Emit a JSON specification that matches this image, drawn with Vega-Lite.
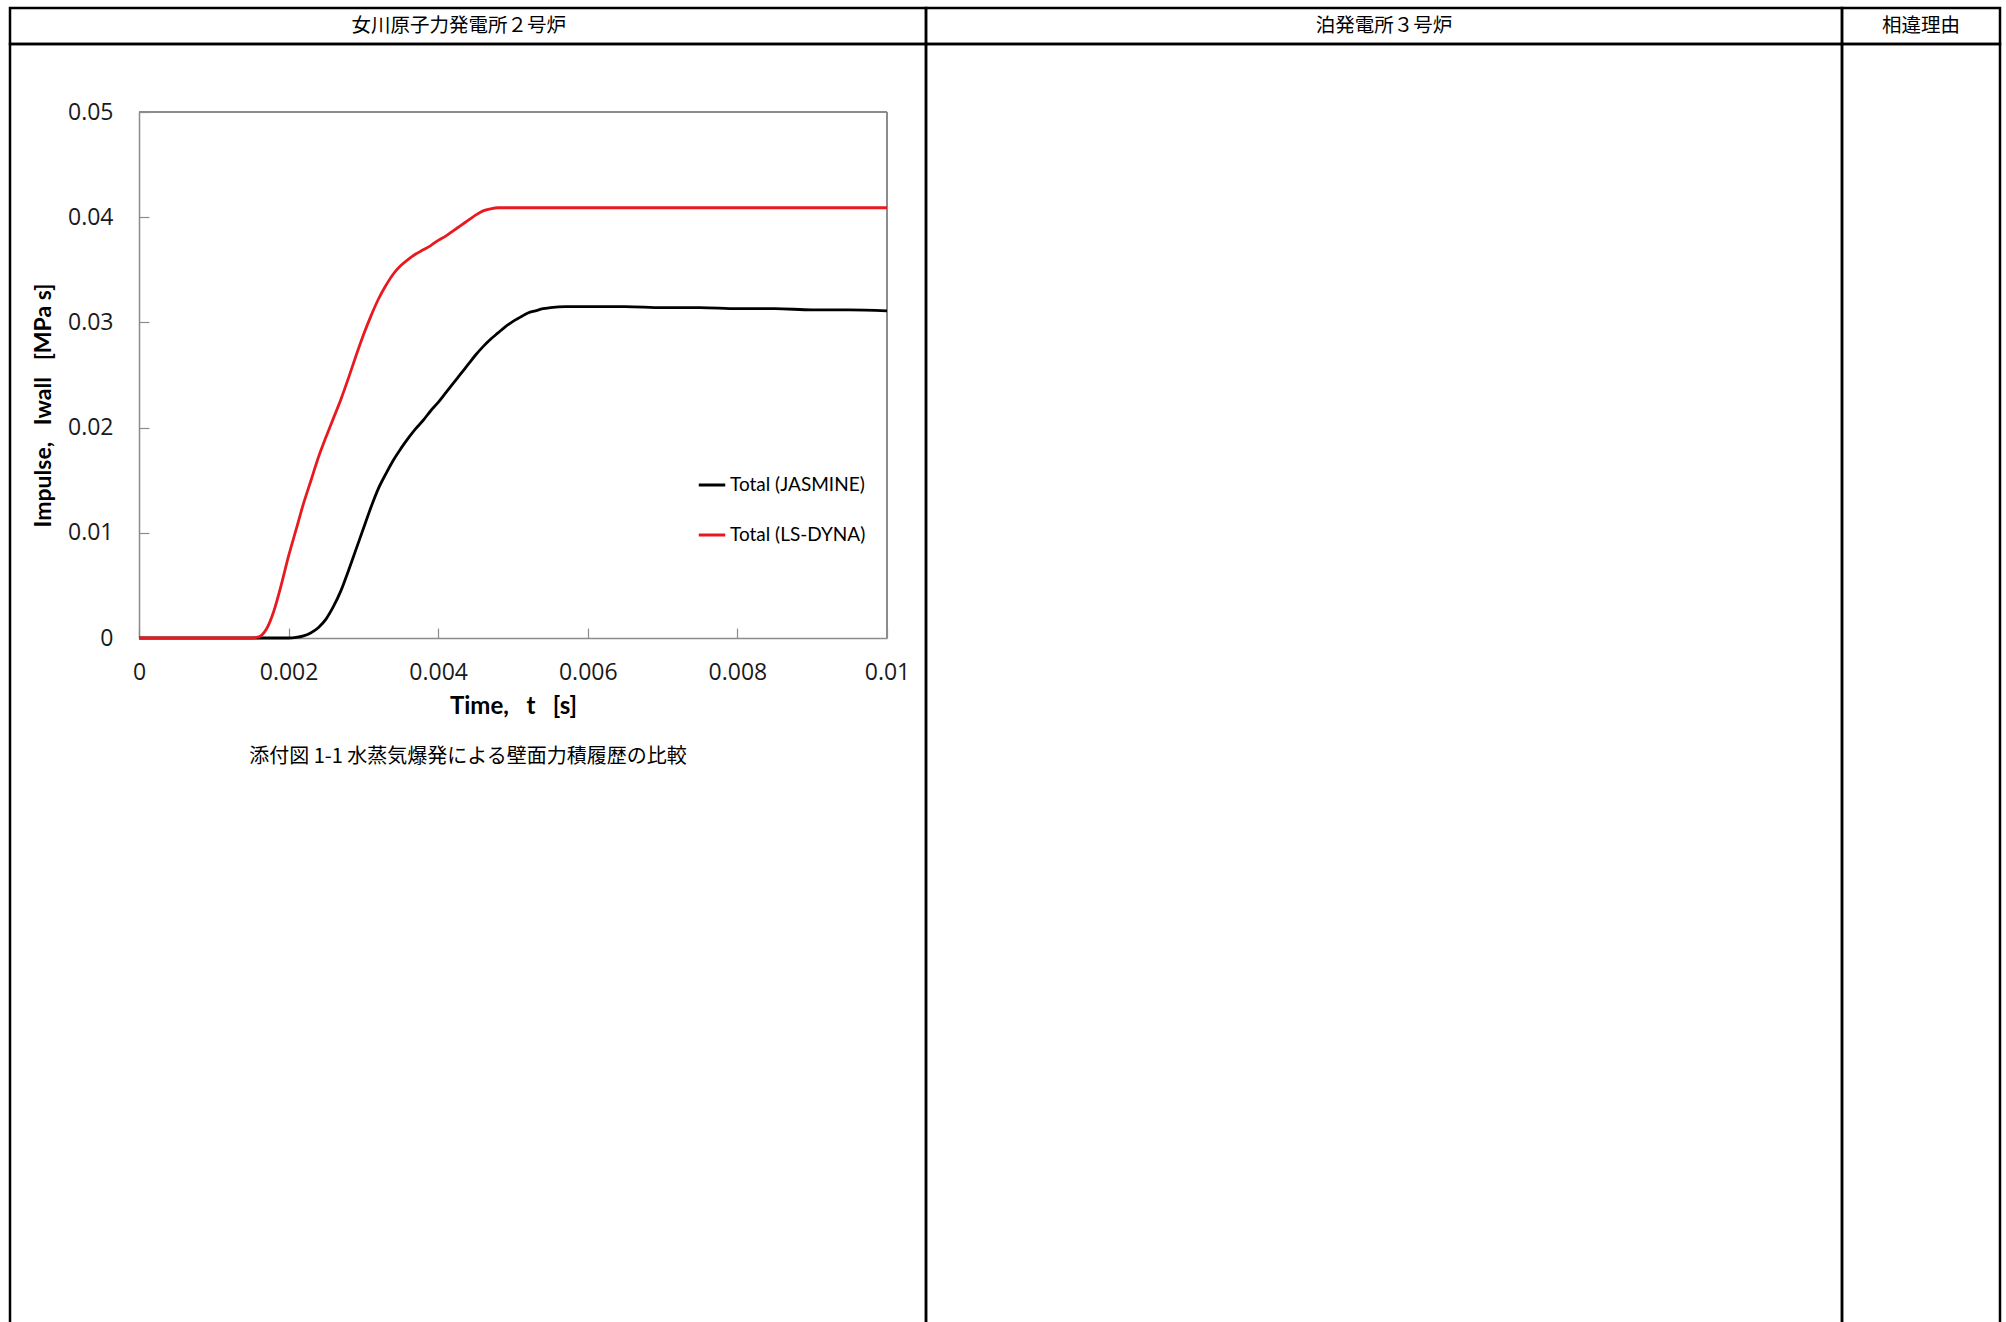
{
  "$schema": "https://vega.github.io/schema/vega-lite/v6.json",
  "padding": {"left": 8, "top": 6, "right": 0, "bottom": 0},
  "background": "white",
  "spacing": 0,
  "bounds": "flush",
  "columns": 3,
  "resolve": {"scale": {"color": "independent"}, "legend": {"color": "independent"}},
  "config": {
    "view": {"stroke": "#000000", "strokeWidth": 2.5},
    "font": "Lato"
  },
  "concat": [
    {
      "width": 916, "height": 36,
      "data": {"values": [{"label": "女川原子力発電所２号炉"}]},
      "mark": {"type": "text", "font": "Noto Sans CJK JP", "fontSize": 19.5, "color": "#000", "align": "center", "baseline": "middle"},
      "encoding": {
        "x": {"datum": 0.49, "type": "quantitative", "scale": {"domain": [0, 1]}, "axis": null},
        "y": {"datum": 0.5, "type": "quantitative", "scale": {"domain": [0, 1]}, "axis": null},
        "text": {"field": "label"}
      }
    },
    {
      "width": 916, "height": 36,
      "data": {"values": [{"label": "泊発電所３号炉"}]},
      "mark": {"type": "text", "font": "Noto Sans CJK JP", "fontSize": 19.5, "color": "#000", "align": "center", "baseline": "middle"},
      "encoding": {
        "x": {"datum": 0.5, "type": "quantitative", "scale": {"domain": [0, 1]}, "axis": null},
        "y": {"datum": 0.5, "type": "quantitative", "scale": {"domain": [0, 1]}, "axis": null},
        "text": {"field": "label"}
      }
    },
    {
      "width": 158, "height": 36,
      "data": {"values": [{"label": "相違理由"}]},
      "mark": {"type": "text", "font": "Noto Sans CJK JP", "fontSize": 19.5, "color": "#000", "align": "center", "baseline": "middle"},
      "encoding": {
        "x": {"datum": 0.5, "type": "quantitative", "scale": {"domain": [0, 1]}, "axis": null},
        "y": {"datum": 0.5, "type": "quantitative", "scale": {"domain": [0, 1]}, "axis": null},
        "text": {"field": "label"}
      }
    },
    {
      "width": 916, "height": 1300,
      "title": {"text": "添付図 1-1 水蒸気爆発による壁面力積履歴の比較", "orient": "bottom", "frame": "group", "anchor": "middle", "offset": -587, "baseline": "middle", "font": "Noto Sans CJK JP", "fontSize": 20, "fontWeight": "normal", "color": "#000"},
      "data": {"values": [
        {"t": 0, "I": 0, "series": "Total (JASMINE)"},
        {"t": 0.001, "I": 0, "series": "Total (JASMINE)"},
        {"t": 0.0015, "I": 0, "series": "Total (JASMINE)"},
        {"t": 0.002, "I": 0, "series": "Total (JASMINE)"},
        {"t": 0.0021, "I": 0.00005, "series": "Total (JASMINE)"},
        {"t": 0.0022, "I": 0.0002, "series": "Total (JASMINE)"},
        {"t": 0.0023, "I": 0.0005, "series": "Total (JASMINE)"},
        {"t": 0.0024, "I": 0.001, "series": "Total (JASMINE)"},
        {"t": 0.0025, "I": 0.0018, "series": "Total (JASMINE)"},
        {"t": 0.0026, "I": 0.003, "series": "Total (JASMINE)"},
        {"t": 0.0027, "I": 0.0045, "series": "Total (JASMINE)"},
        {"t": 0.0028, "I": 0.0064, "series": "Total (JASMINE)"},
        {"t": 0.0029, "I": 0.0084, "series": "Total (JASMINE)"},
        {"t": 0.003, "I": 0.0104, "series": "Total (JASMINE)"},
        {"t": 0.0031, "I": 0.0124, "series": "Total (JASMINE)"},
        {"t": 0.0032, "I": 0.0142, "series": "Total (JASMINE)"},
        {"t": 0.0033, "I": 0.0156, "series": "Total (JASMINE)"},
        {"t": 0.0034, "I": 0.0169, "series": "Total (JASMINE)"},
        {"t": 0.0035, "I": 0.018, "series": "Total (JASMINE)"},
        {"t": 0.0036, "I": 0.019, "series": "Total (JASMINE)"},
        {"t": 0.0037, "I": 0.0199, "series": "Total (JASMINE)"},
        {"t": 0.0038, "I": 0.0207, "series": "Total (JASMINE)"},
        {"t": 0.0039, "I": 0.0216, "series": "Total (JASMINE)"},
        {"t": 0.004, "I": 0.0224, "series": "Total (JASMINE)"},
        {"t": 0.0041, "I": 0.0233, "series": "Total (JASMINE)"},
        {"t": 0.0042, "I": 0.0242, "series": "Total (JASMINE)"},
        {"t": 0.0043, "I": 0.0251, "series": "Total (JASMINE)"},
        {"t": 0.0044, "I": 0.026, "series": "Total (JASMINE)"},
        {"t": 0.0045, "I": 0.0269, "series": "Total (JASMINE)"},
        {"t": 0.0046, "I": 0.0277, "series": "Total (JASMINE)"},
        {"t": 0.0047, "I": 0.0284, "series": "Total (JASMINE)"},
        {"t": 0.0048, "I": 0.029, "series": "Total (JASMINE)"},
        {"t": 0.0049, "I": 0.0296, "series": "Total (JASMINE)"},
        {"t": 0.005, "I": 0.0301, "series": "Total (JASMINE)"},
        {"t": 0.0051, "I": 0.0305, "series": "Total (JASMINE)"},
        {"t": 0.0052, "I": 0.0309, "series": "Total (JASMINE)"},
        {"t": 0.0053, "I": 0.0311, "series": "Total (JASMINE)"},
        {"t": 0.0054, "I": 0.0313, "series": "Total (JASMINE)"},
        {"t": 0.0055, "I": 0.0314, "series": "Total (JASMINE)"},
        {"t": 0.0057, "I": 0.0315, "series": "Total (JASMINE)"},
        {"t": 0.006, "I": 0.0315, "series": "Total (JASMINE)"},
        {"t": 0.0065, "I": 0.0315, "series": "Total (JASMINE)"},
        {"t": 0.007, "I": 0.0314, "series": "Total (JASMINE)"},
        {"t": 0.0075, "I": 0.0314, "series": "Total (JASMINE)"},
        {"t": 0.008, "I": 0.0313, "series": "Total (JASMINE)"},
        {"t": 0.0085, "I": 0.0313, "series": "Total (JASMINE)"},
        {"t": 0.009, "I": 0.0312, "series": "Total (JASMINE)"},
        {"t": 0.0095, "I": 0.0312, "series": "Total (JASMINE)"},
        {"t": 0.01, "I": 0.0311, "series": "Total (JASMINE)"},
        {"t": 0, "I": 0, "series": "Total (LS-DYNA)"},
        {"t": 0.001, "I": 0, "series": "Total (LS-DYNA)"},
        {"t": 0.0015, "I": 0, "series": "Total (LS-DYNA)"},
        {"t": 0.0016, "I": 0.0001, "series": "Total (LS-DYNA)"},
        {"t": 0.0017, "I": 0.0008, "series": "Total (LS-DYNA)"},
        {"t": 0.0018, "I": 0.0025, "series": "Total (LS-DYNA)"},
        {"t": 0.0019, "I": 0.005, "series": "Total (LS-DYNA)"},
        {"t": 0.002, "I": 0.0078, "series": "Total (LS-DYNA)"},
        {"t": 0.0021, "I": 0.0103, "series": "Total (LS-DYNA)"},
        {"t": 0.0022, "I": 0.0128, "series": "Total (LS-DYNA)"},
        {"t": 0.0023, "I": 0.015, "series": "Total (LS-DYNA)"},
        {"t": 0.0024, "I": 0.0172, "series": "Total (LS-DYNA)"},
        {"t": 0.0025, "I": 0.0191, "series": "Total (LS-DYNA)"},
        {"t": 0.0026, "I": 0.0209, "series": "Total (LS-DYNA)"},
        {"t": 0.0027, "I": 0.0227, "series": "Total (LS-DYNA)"},
        {"t": 0.0028, "I": 0.0247, "series": "Total (LS-DYNA)"},
        {"t": 0.0029, "I": 0.0268, "series": "Total (LS-DYNA)"},
        {"t": 0.003, "I": 0.0288, "series": "Total (LS-DYNA)"},
        {"t": 0.0031, "I": 0.0306, "series": "Total (LS-DYNA)"},
        {"t": 0.0032, "I": 0.0322, "series": "Total (LS-DYNA)"},
        {"t": 0.0033, "I": 0.0335, "series": "Total (LS-DYNA)"},
        {"t": 0.0034, "I": 0.0346, "series": "Total (LS-DYNA)"},
        {"t": 0.0035, "I": 0.0354, "series": "Total (LS-DYNA)"},
        {"t": 0.0036, "I": 0.036, "series": "Total (LS-DYNA)"},
        {"t": 0.0037, "I": 0.0365, "series": "Total (LS-DYNA)"},
        {"t": 0.0038, "I": 0.0369, "series": "Total (LS-DYNA)"},
        {"t": 0.0039, "I": 0.0373, "series": "Total (LS-DYNA)"},
        {"t": 0.004, "I": 0.0378, "series": "Total (LS-DYNA)"},
        {"t": 0.0041, "I": 0.0382, "series": "Total (LS-DYNA)"},
        {"t": 0.0042, "I": 0.0387, "series": "Total (LS-DYNA)"},
        {"t": 0.0043, "I": 0.0392, "series": "Total (LS-DYNA)"},
        {"t": 0.0044, "I": 0.0397, "series": "Total (LS-DYNA)"},
        {"t": 0.0045, "I": 0.0402, "series": "Total (LS-DYNA)"},
        {"t": 0.0046, "I": 0.0406, "series": "Total (LS-DYNA)"},
        {"t": 0.0047, "I": 0.0408, "series": "Total (LS-DYNA)"},
        {"t": 0.0048, "I": 0.0409, "series": "Total (LS-DYNA)"},
        {"t": 0.005, "I": 0.0409, "series": "Total (LS-DYNA)"},
        {"t": 0.006, "I": 0.0409, "series": "Total (LS-DYNA)"},
        {"t": 0.007, "I": 0.0409, "series": "Total (LS-DYNA)"},
        {"t": 0.008, "I": 0.0409, "series": "Total (LS-DYNA)"},
        {"t": 0.009, "I": 0.0409, "series": "Total (LS-DYNA)"},
        {"t": 0.01, "I": 0.0409, "series": "Total (LS-DYNA)"}
      ]},
      "layer": [
        {
          "mark": {"type": "rule", "color": "#8c8c8c", "strokeWidth": 1.5},
          "encoding": {
            "x": {"datum": 0, "type": "quantitative", "scale": {"domain": [0, 0.01], "range": [129, 877], "nice": false, "zero": false}},
            "x2": {"datum": 0.01},
            "y": {"datum": 0.05, "type": "quantitative", "scale": {"domain": [0, 0.05], "range": [594, 68], "nice": false, "zero": false}}
          }
        },
        {
          "mark": {"type": "rule", "color": "#8c8c8c", "strokeWidth": 1.5},
          "encoding": {
            "x": {"datum": 0.01, "type": "quantitative"},
            "y": {"datum": 0, "type": "quantitative"},
            "y2": {"datum": 0.05}
          }
        },
        {
          "mark": {"type": "line", "strokeWidth": 2.8, "interpolate": "monotone"},
          "encoding": {
            "x": {
              "field": "t", "type": "quantitative",
              "scale": {"domain": [0, 0.01], "range": [129, 877], "nice": false, "zero": false},
              "axis": {
                "values": [0, 0.002, 0.004, 0.006, 0.008, 0.01], "format": "~g",
                "offset": -706, "grid": false,
                "domainColor": "#8c8c8c", "domainWidth": 1.5,
                "tickColor": "#8c8c8c", "tickSize": -10, "tickWidth": 1.2,
                "labelPadding": 33, "labelFont": "Open Sans", "labelFontSize": 23, "labelColor": "#1a1a1a",
                "labelFlush": false, "labelOverlap": false,
                "title": "Time,\u00a0\u00a0 t\u00a0\u00a0 [s]", "titleFont": "Lato", "titleFontSize": 24, "titleFontWeight": "bold", "titleColor": "#000",
                "titleY": 68, "titleBaseline": "middle"
              }
            },
            "y": {
              "field": "I", "type": "quantitative",
              "scale": {"domain": [0, 0.05], "range": [594, 68], "nice": false, "zero": false},
              "axis": {
                "values": [0, 0.01, 0.02, 0.03, 0.04, 0.05], "format": "~g",
                "offset": -129, "grid": false,
                "domainColor": "#8c8c8c", "domainWidth": 1.5,
                "tickColor": "#8c8c8c", "tickSize": -10, "tickWidth": 1.2,
                "labelPadding": 36, "labelFont": "Open Sans", "labelFontSize": 23, "labelColor": "#1a1a1a",
                "labelFlush": false, "labelOverlap": false,
                "title": "Impulse,\u00a0\u00a0 Iwall\u00a0\u00a0 [MPa s]", "titleFont": "Lato", "titleFontSize": 23, "titleFontWeight": "bold", "titleColor": "#000",
                "titleX": -96, "titleY": 361, "titleBaseline": "middle"
              }
            },
            "color": {
              "field": "series", "type": "nominal",
              "scale": {"domain": ["Total (JASMINE)", "Total (LS-DYNA)"], "range": ["#000000", "#e8191f"]},
              "legend": {
                "orient": "none", "legendX": 687, "legendY": 426, "title": null,
                "symbolType": "stroke", "symbolSize": 700, "symbolStrokeWidth": 3,
                "labelFont": "Lato", "labelFontSize": 19, "labelColor": "#000", "labelOffset": 3,
                "rowPadding": 25, "padding": 0, "labelLimit": 300
              }
            }
          }
        }
      ]
    },
    {
      "width": 916, "height": 1300,
      "data": {"values": [{"label": ""}]},
      "mark": {"type": "text"},
      "encoding": {
        "x": {"datum": 0.5, "type": "quantitative", "scale": {"domain": [0, 1]}, "axis": null},
        "y": {"datum": 0.5, "type": "quantitative", "scale": {"domain": [0, 1]}, "axis": null},
        "text": {"field": "label"}
      }
    },
    {
      "width": 158, "height": 1300,
      "data": {"values": [{"label": ""}]},
      "mark": {"type": "text"},
      "encoding": {
        "x": {"datum": 0.5, "type": "quantitative", "scale": {"domain": [0, 1]}, "axis": null},
        "y": {"datum": 0.5, "type": "quantitative", "scale": {"domain": [0, 1]}, "axis": null},
        "text": {"field": "label"}
      }
    }
  ]
}
